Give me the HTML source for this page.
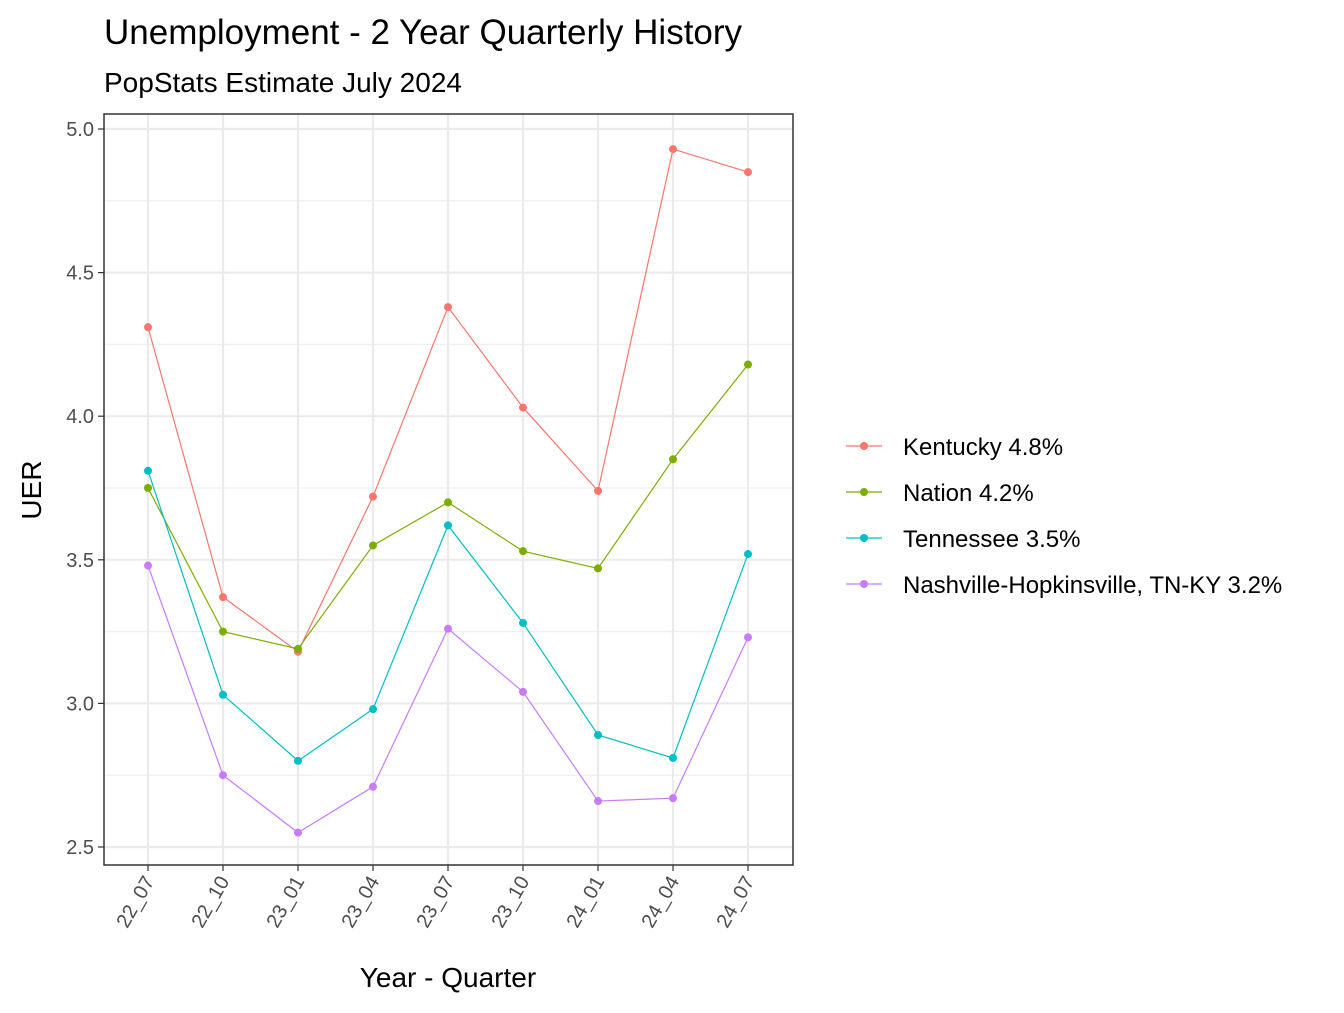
<!DOCTYPE html>
<html><head><meta charset="utf-8"><style>
body{margin:0;background:#fff;}
svg text{font-family:"Liberation Sans",Arial,sans-serif;}
</style></head><body>
<svg id="chart" width="1344" height="1008" xmlns="http://www.w3.org/2000/svg">
<text x="104" y="44" font-size="35" fill="#000">Unemployment - 2 Year Quarterly History</text>
<text x="104" y="92" font-size="28" fill="#000">PopStats Estimate July 2024</text>
<g id="plot"></g>
<text x="448" y="987" font-size="28" text-anchor="middle" fill="#000">Year - Quarter</text>
<text transform="translate(41,490) rotate(-90)" font-size="28" text-anchor="middle" fill="#000">UER</text>
<g id="legend"></g>
</svg>
<script>
const categories=["22_07","22_10","23_01","23_04","23_07","23_10","24_01","24_04","24_07"];
const seriesNames=["Kentucky 4.8%","Nation 4.2%","Tennessee 3.5%","Nashville-Hopkinsville, TN-KY 3.2%"];
const kentucky=[4.31,3.37,3.18,3.72,4.38,4.03,3.74,4.93,4.85];
const nation=[3.75,3.25,3.19,3.55,3.70,3.53,3.47,3.85,4.18];
const tennessee=[3.81,3.03,2.80,2.98,3.62,3.28,2.89,2.81,3.52];
const nashville=[3.48,2.75,2.55,2.71,3.26,3.04,2.66,2.67,3.23];
const yTicks=[2.5,3.0,3.5,4.0,4.5,5.0];
const yTickLabels=["2.5","3.0","3.5","4.0","4.5","5.0"];
const colors=["#F8766D","#7CAE00","#00BFC4","#C77CFF"];
const allSeries=[kentucky,nation,tennessee,nashville];
const NS="http://www.w3.org/2000/svg";
const L=104,R=793,T=114,B=865;
const x=i=>148+i*(748-148)/(categories.length-1);
const y=v=>847-(v-2.5)*(847-129)/2.5;
const g=document.getElementById('plot');
function mk(tag,attrs,parent){const e=document.createElementNS(NS,tag);for(const k in attrs)e.setAttribute(k,attrs[k]);parent.appendChild(e);return e;}
// minor grid
for(let i=0;i<yTicks.length-1;i++){const l=mk('line',{x1:L,x2:R,y1:y((yTicks[i]+yTicks[i+1])/2),y2:y((yTicks[i]+yTicks[i+1])/2),stroke:'#EBEBEB','stroke-width':1},g);

}
yTicks.forEach((v,i)=>{const l=mk('line',{x1:L,x2:R,y1:y(v),y2:y(v),stroke:'#EBEBEB','stroke-width':2.2},g);


const t=mk('line',{x1:L-6,x2:L,y1:y(v),y2:y(v),stroke:'#333','stroke-width':1.2},g);


const tx=mk('text',{x:L-10,y:y(v)+7,'font-size':20,'text-anchor':'end',fill:'#4D4D4D'},g);tx.textContent=yTickLabels[i];

});
categories.forEach((c,i)=>{const l=mk('line',{x1:x(i),x2:x(i),y1:T,y2:B,stroke:'#EBEBEB','stroke-width':2.2},g);


const t=mk('line',{x1:x(i),x2:x(i),y1:B,y2:B+6,stroke:'#333','stroke-width':1.2},g);


const tx=mk('text',{transform:`translate(${x(i)+7},${B+16}) rotate(-60)`,'font-size':20,'text-anchor':'end',fill:'#4D4D4D'},g);tx.textContent=c;

});
allSeries.forEach((s,k)=>{const p=mk('polyline',{points:s.map((v,i)=>x(i)+','+y(v)).join(' '),fill:'none',stroke:colors[k],'stroke-width':1.2},g);


s.forEach((v,i)=>{const c=mk('circle',{cx:x(i),cy:y(v),r:4,fill:colors[k]},g);

});});
const fr=mk('rect',{x:L,y:T,width:R-L,height:B-T,fill:'none',stroke:'#333','stroke-width':1.5},g);


const lg=document.getElementById('legend');
seriesNames.forEach((n,k)=>{const yy=446+k*46;
const l=mk('line',{x1:846,x2:882,y1:yy,y2:yy,stroke:colors[k],'stroke-width':1.2},lg);


const c=mk('circle',{cx:864,cy:yy,r:4,fill:colors[k]},lg);


const t=mk('text',{x:903,y:yy+9,'font-size':24,fill:'#000'},lg);t.textContent=n;

});
</script>
</body></html>
